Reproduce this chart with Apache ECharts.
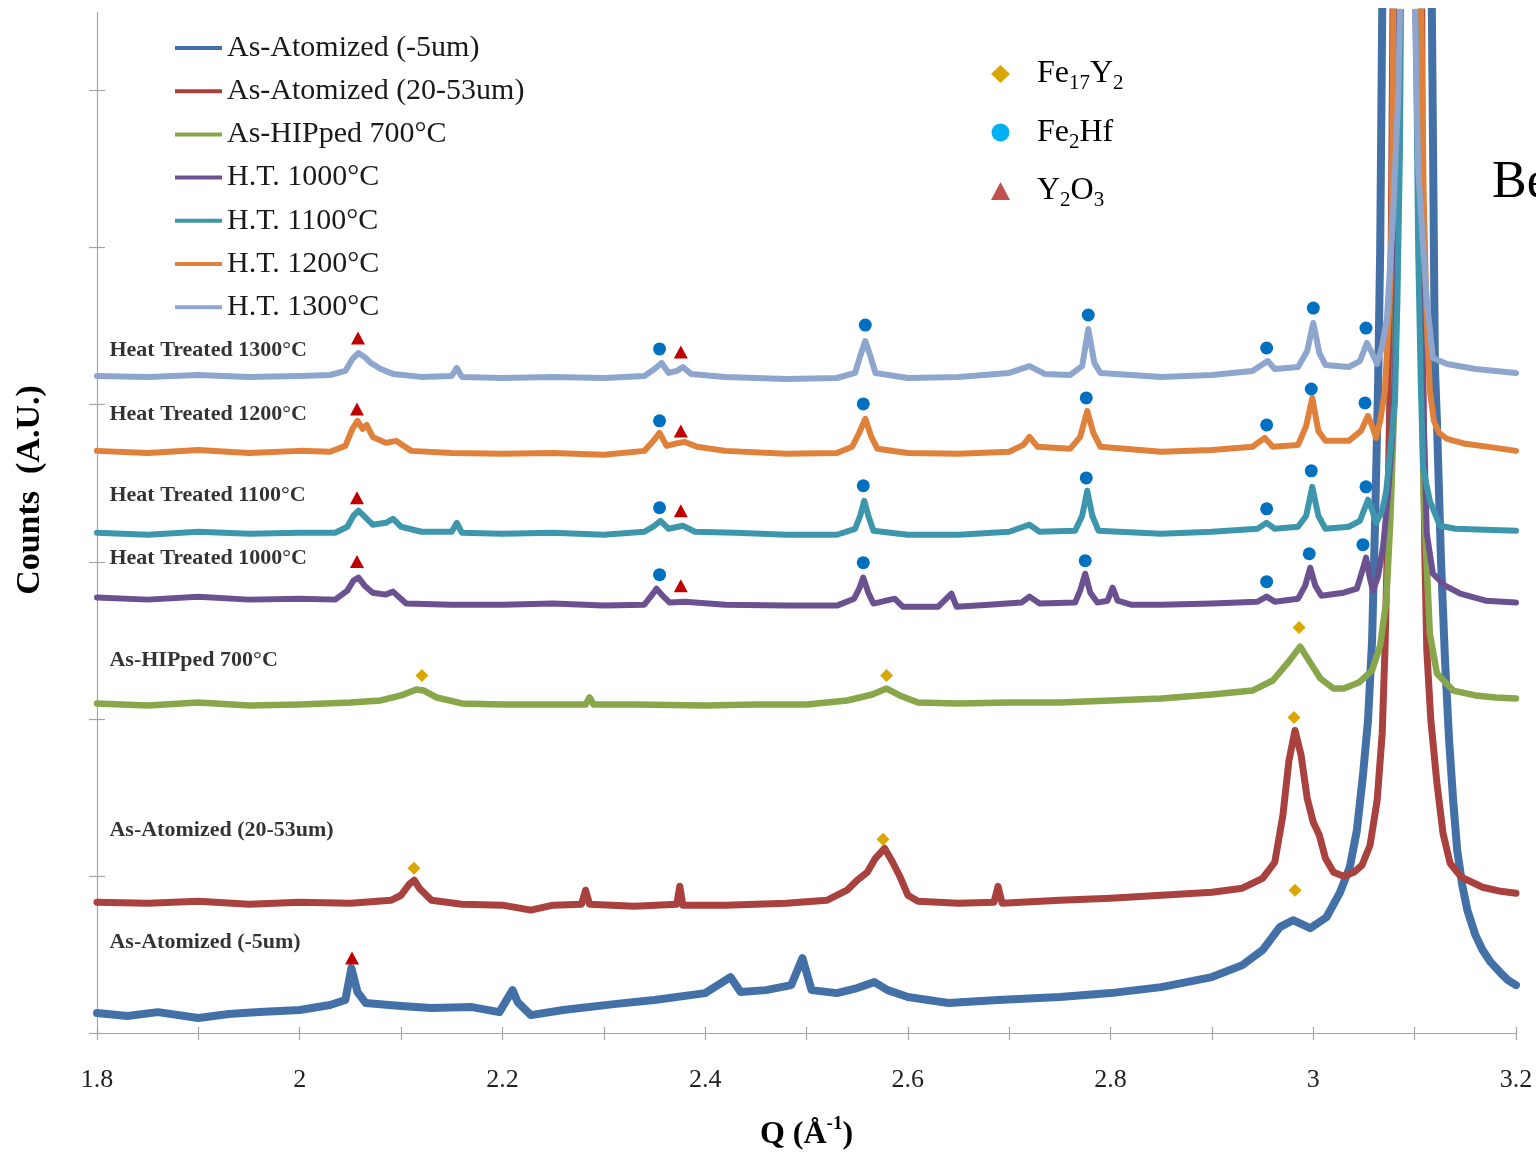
<!DOCTYPE html>
<html>
<head>
<meta charset="utf-8">
<script src="https://cdn.jsdelivr.net/npm/echarts@6/dist/echarts.min.js"></script>
<style>
  html, body { margin: 0; padding: 0; background: #ffffff; }
  #chart { width: 1536px; height: 1153px; }
</style>
</head>
<body>
<div id="chart"></div>
<script>
// X-ray diffraction patterns: intensity (arbitrary units, curves stacked) versus Q (1/Angstrom)
const qTicks = [1.8, 1.9, 2.0, 2.1, 2.2, 2.3, 2.4, 2.5, 2.6, 2.7, 2.8, 2.9, 3.0, 3.1, 3.2];
const qLabels = [1.8, 2, 2.2, 2.4, 2.6, 2.8, 3, 3.2];
const countTicks = [0, 1000, 2000, 3000, 4000, 5000, 6000];

const seriesNames = [
  'As-Atomized (-5um)', 'As-Atomized (20-53um)', 'As-HIPped 700°C',
  'H.T. 1000°C', 'H.T. 1100°C', 'H.T. 1200°C', 'H.T. 1300°C'
];

// [Q, counts] for each sample
const asAtomized5um = [[1.80,127],[1.83,108],[1.86,133],[1.90,95],[1.93,121],[1.96,133],[2.00,146],[2.03,178],[2.045,210],[2.051,413],[2.057,261],[2.065,191],[2.10,172],[2.13,159],[2.17,165],[2.197,133],[2.210,273],[2.215,197],[2.228,114],[2.26,146],[2.31,184],[2.35,210],[2.40,254],[2.425,356],[2.435,261],[2.46,273],[2.485,305],[2.496,477],[2.505,273],[2.53,254],[2.55,286],[2.567,324],[2.58,273],[2.60,229],[2.64,191],[2.689,210],[2.75,229],[2.80,254],[2.85,292],[2.90,356],[2.93,432],[2.95,528],[2.967,674],[2.98,718],[2.997,667],[3.013,737],[3.026,890],[3.036,1055],[3.043,1290],[3.049,1640],[3.054,1990],[3.058,2498],[3.061,3261],[3.064,4151],[3.066,4978],[3.068,6503],[3.075,9000],[3.092,15000],[3.110,9000],[3.117,6503],[3.120,4234],[3.122,3897],[3.126,3007],[3.130,2371],[3.134,1863],[3.138,1481],[3.142,1163],[3.147,941],[3.152,782],[3.160,623],[3.167,528],[3.175,451],[3.184,388],[3.192,337],[3.20,305]];

const asAtomized2053 = [[1.80,833],[1.85,826],[1.90,839],[1.95,820],[2.00,833],[2.05,826],[2.09,845],[2.10,877],[2.108,947],[2.113,973],[2.118,922],[2.13,845],[2.16,820],[2.20,814],[2.228,782],[2.25,814],[2.278,820],[2.282,909],[2.286,820],[2.33,807],[2.372,820],[2.375,934],[2.378,814],[2.42,814],[2.48,826],[2.52,845],[2.54,909],[2.55,973],[2.56,1023],[2.568,1112],[2.577,1176],[2.585,1087],[2.592,998],[2.60,877],[2.61,839],[2.65,826],[2.685,833],[2.689,934],[2.693,826],[2.75,845],[2.80,858],[2.85,877],[2.90,896],[2.93,922],[2.95,985],[2.962,1087],[2.97,1386],[2.976,1735],[2.982,1926],[2.988,1767],[2.994,1494],[3.000,1341],[3.006,1259],[3.012,1112],[3.020,1023],[3.030,998],[3.040,1023],[3.048,1068],[3.056,1195],[3.063,1481],[3.068,1907],[3.0707,2435],[3.073,3070],[3.076,4234],[3.0786,6503],[3.083,9000],[3.093,15000],[3.103,9000],[3.107,6503],[3.108,4234],[3.110,3070],[3.112,2435],[3.116,1990],[3.122,1589],[3.128,1271],[3.135,1081],[3.146,992],[3.167,928],[3.185,902],[3.20,890]];

const asHipped700 = [[1.80,2098],[1.85,2085],[1.90,2104],[1.95,2085],[2.00,2091],[2.05,2104],[2.08,2117],[2.10,2149],[2.115,2187],[2.122,2181],[2.135,2136],[2.16,2098],[2.20,2091],[2.25,2091],[2.282,2091],[2.286,2136],[2.29,2091],[2.33,2091],[2.40,2085],[2.45,2091],[2.50,2091],[2.54,2117],[2.565,2155],[2.579,2193],[2.592,2149],[2.61,2104],[2.65,2098],[2.70,2104],[2.75,2104],[2.80,2117],[2.85,2130],[2.90,2155],[2.94,2180],[2.96,2244],[2.975,2358],[2.987,2460],[2.997,2358],[3.007,2257],[3.02,2193],[3.03,2193],[3.045,2231],[3.058,2308],[3.066,2467],[3.072,2753],[3.076,3261],[3.08,4024],[3.083,5295],[3.0845,6503],[3.088,9000],[3.093,15000],[3.099,9000],[3.103,6503],[3.106,4660],[3.109,3388],[3.115,2543],[3.122,2289],[3.138,2180],[3.16,2149],[3.18,2136],[3.20,2130]];

const ht1000 = [[1.80,2772],[1.85,2759],[1.90,2778],[1.95,2759],[2.00,2765],[2.035,2759],[2.047,2816],[2.053,2880],[2.058,2899],[2.064,2848],[2.072,2803],[2.085,2791],[2.092,2810],[2.105,2734],[2.15,2727],[2.20,2727],[2.25,2734],[2.30,2721],[2.34,2727],[2.347,2784],[2.352,2829],[2.358,2784],[2.365,2740],[2.38,2746],[2.42,2727],[2.48,2721],[2.53,2721],[2.547,2765],[2.552,2829],[2.556,2899],[2.561,2803],[2.566,2734],[2.587,2765],[2.595,2714],[2.63,2714],[2.643,2797],[2.648,2714],[2.68,2727],[2.712,2740],[2.72,2778],[2.73,2734],[2.765,2740],[2.77,2816],[2.775,2924],[2.78,2803],[2.787,2740],[2.797,2752],[2.802,2835],[2.807,2752],[2.82,2727],[2.85,2727],[2.90,2734],[2.945,2746],[2.954,2778],[2.962,2746],[2.985,2765],[2.992,2848],[2.997,2962],[3.002,2848],[3.008,2784],[3.03,2803],[3.043,2829],[3.049,2956],[3.052,3026],[3.056,2892],[3.059,2816],[3.064,2911],[3.069,3102],[3.074,3452],[3.0776,3770],[3.0806,4215],[3.083,5295],[3.084,6503],[3.088,9000],[3.093,15000],[3.099,9000],[3.1035,6503],[3.106,4660],[3.109,3897],[3.112,3179],[3.118,2924],[3.13,2848],[3.145,2797],[3.17,2752],[3.20,2740]];

const ht1100 = [[1.80,3185],[1.85,3172],[1.90,3191],[1.95,3179],[2.00,3185],[2.035,3185],[2.047,3223],[2.053,3293],[2.058,3325],[2.064,3287],[2.072,3236],[2.085,3248],[2.092,3274],[2.10,3223],[2.12,3191],[2.15,3191],[2.155,3248],[2.16,3185],[2.20,3179],[2.25,3185],[2.30,3172],[2.34,3191],[2.35,3229],[2.356,3261],[2.364,3210],[2.378,3229],[2.39,3191],[2.43,3185],[2.48,3172],[2.53,3172],[2.548,3210],[2.553,3293],[2.557,3388],[2.561,3293],[2.566,3198],[2.60,3172],[2.65,3172],[2.70,3191],[2.72,3236],[2.73,3191],[2.765,3198],[2.772,3293],[2.777,3452],[2.782,3293],[2.788,3198],[2.85,3179],[2.90,3191],[2.945,3210],[2.954,3248],[2.962,3210],[2.985,3223],[2.993,3293],[2.999,3477],[3.005,3293],[3.012,3210],[3.035,3223],[3.046,3261],[3.054,3395],[3.058,3331],[3.062,3248],[3.068,3325],[3.072,3452],[3.0776,3814],[3.0806,4024],[3.083,4660],[3.0855,5613],[3.0865,6503],[3.09,9000],[3.094,15000],[3.098,9000],[3.101,6503],[3.1035,4978],[3.106,4151],[3.1083,3598],[3.115,3388],[3.125,3229],[3.14,3210],[3.17,3204],[3.20,3198]];

const ht1200 = [[1.80,3706],[1.85,3693],[1.90,3712],[1.95,3693],[2.00,3706],[2.03,3700],[2.045,3738],[2.052,3846],[2.057,3897],[2.062,3846],[2.066,3871],[2.072,3795],[2.085,3757],[2.095,3770],[2.11,3706],[2.15,3693],[2.20,3687],[2.25,3693],[2.30,3681],[2.34,3706],[2.349,3770],[2.355,3821],[2.362,3738],[2.37,3751],[2.38,3763],[2.392,3732],[2.42,3706],[2.48,3687],[2.53,3693],[2.545,3732],[2.552,3821],[2.558,3910],[2.564,3795],[2.57,3719],[2.60,3693],[2.65,3687],[2.70,3700],[2.714,3744],[2.72,3795],[2.728,3732],[2.76,3719],[2.77,3795],[2.777,3960],[2.783,3821],[2.79,3732],[2.85,3700],[2.90,3712],[2.94,3732],[2.952,3789],[2.96,3732],[2.985,3744],[2.993,3865],[2.999,4043],[3.005,3833],[3.012,3770],[3.035,3770],[3.047,3833],[3.054,3929],[3.058,3865],[3.062,3789],[3.066,3897],[3.0707,4088],[3.0757,4723],[3.0775,5295],[3.079,6503],[3.083,9000],[3.093,15000],[3.103,9000],[3.1065,6503],[3.109,5295],[3.112,4533],[3.115,4088],[3.119,3897],[3.124,3821],[3.132,3782],[3.15,3751],[3.18,3725],[3.20,3706]];

const ht1300 = [[1.80,4183],[1.85,4177],[1.90,4189],[1.95,4177],[2.00,4183],[2.03,4189],[2.045,4215],[2.052,4291],[2.058,4329],[2.064,4304],[2.07,4266],[2.08,4227],[2.092,4196],[2.12,4177],[2.15,4183],[2.155,4234],[2.16,4177],[2.20,4170],[2.25,4177],[2.30,4170],[2.34,4183],[2.35,4227],[2.357,4266],[2.364,4202],[2.372,4215],[2.378,4240],[2.386,4196],[2.42,4177],[2.48,4164],[2.53,4170],[2.548,4202],[2.553,4310],[2.558,4405],[2.563,4310],[2.568,4202],[2.60,4170],[2.65,4177],[2.70,4202],[2.72,4246],[2.735,4196],[2.76,4189],[2.772,4246],[2.778,4482],[2.784,4266],[2.79,4202],[2.85,4177],[2.90,4189],[2.94,4215],[2.955,4278],[2.962,4227],[2.985,4240],[2.994,4342],[3.000,4520],[3.006,4329],[3.012,4253],[3.035,4240],[3.046,4278],[3.053,4393],[3.058,4329],[3.063,4259],[3.068,4374],[3.0727,4552],[3.0786,5187],[3.0836,5931],[3.0855,6503],[3.089,9000],[3.093,15000],[3.097,9000],[3.1003,6503],[3.1035,5505],[3.108,5041],[3.112,4660],[3.118,4297],[3.132,4259],[3.16,4227],[3.18,4215],[3.20,4202]];

// Phase identification markers, [Q, counts]
const fe17y2Peaks = [[2.1206,2276],[2.579,2276],[2.986,2581],[2.1127,1049],[2.5755,1233],[2.981,2009],[2.982,909]];
const fe2hfPeaks = [
  [2.355,4355],[2.558,4507],[2.778,4571],[2.954,4361],[3.000,4615],[3.052,4488],
  [2.355,3897],[2.556,4005],[2.776,4043],[2.954,3871],[2.998,4100],[3.051,4011],
  [2.355,3344],[2.556,3484],[2.776,3534],[2.954,3337],[2.998,3579],[3.052,3477],
  [2.355,2918],[2.556,2994],[2.775,3007],[2.954,2873],[2.996,3051],[3.049,3109]
];
const y2o3Peaks = [[2.0575,4424],[2.376,4335],[2.0565,3973],[2.376,3833],[2.0565,3407],[2.376,3325],[2.0565,3001],[2.376,2848],[2.0516,477]];

// Curve captions, anchored at [Q, counts]
const captionNames = ['Heat Treated 1300°C', 'Heat Treated 1200°C', 'Heat Treated 1100°C', 'Heat Treated 1000°C', 'As-HIPped 700°C', 'As-Atomized (20-53um)', 'As-Atomized (-5um)'];
const captionAnchors = [[1.8118,4348],[1.8118,3941],[1.8118,3426],[1.8118,3020],[1.8118,2371],[1.8118,1290],[1.8118,578]];

const seriesColors = ['#4470A8', '#A9423F', '#88A74B', '#6B5190', '#3E96AC', '#E0813B', '#8EA6CD'];
const seriesWidths = [8, 7, 6.5, 6, 6, 6, 6];
const seriesData = [asAtomized5um, asAtomized2053, asHipped700, ht1000, ht1100, ht1200, ht1300];

const serif = '"Liberation Serif", "Times New Roman", serif';
const axisGrey = '#A6A6A6';

const lineSeries = seriesNames.map((name, i) => ({
  type: 'line',
  name: name,
  data: seriesData[i],
  symbol: 'none',
  showSymbol: false,
  clip: true,
  silent: true,
  z: 2,
  itemStyle: { color: seriesColors[i] },
  lineStyle: { color: seriesColors[i], width: seriesWidths[i], join: 'round', cap: 'round' }
}));

const phaseLabel = {
  'Fe17Y2': '{n|Fe}{s|17}{n|Y}{s|2}',
  'Fe2Hf': '{n|Fe}{s|2}{n|Hf}',
  'Y2O3': '{n|Y}{s|2}{n|O}{s|3}'
};

const chart = echarts.init(document.getElementById('chart'), null, { renderer: 'canvas' });

chart.setOption({
  animation: false,
  backgroundColor: '#ffffff',
  grid: { left: 97, right: 20, top: 12, bottom: 120, containLabel: false, outerBoundsMode: 'none' },
  xAxis: [
    {
      type: 'value', min: 1.8, max: 3.2, interval: 0.1,
      axisLine: { show: true, onZero: false, lineStyle: { color: axisGrey, width: 1.2 } },
      axisTick: { show: true, length: 7, customValues: qTicks, lineStyle: { color: axisGrey, width: 1.2 } },
      axisLabel: {
        show: true, customValues: qLabels, margin: 34,
        fontFamily: serif, fontSize: 26, color: '#222222',
        formatter: v => { const k = Math.round(v * 10); return k % 2 === 0 ? String(k / 10) : ''; }
      },
      splitLine: { show: false },
      name: 'Q (Å{sup|-1})', nameLocation: 'middle', nameGap: 82,
      nameTextStyle: {
        fontFamily: serif, fontSize: 32, fontWeight: 'bold', color: '#000000', lineHeight: 40,
        rich: { sup: { fontFamily: serif, fontSize: 19, fontWeight: 'bold', color: '#000000', verticalAlign: 'top', lineHeight: 40 } }
      }
    },
    {
      type: 'value', min: 1.8, max: 3.2, interval: 0.1, position: 'bottom',
      axisLine: { show: false },
      axisTick: { show: true, inside: true, length: 6, customValues: qTicks, lineStyle: { color: axisGrey, width: 1.2 } },
      axisLabel: { show: false },
      splitLine: { show: false }
    }
  ],
  yAxis: [
    {
      type: 'value', min: 0, max: 6500, interval: 1000,
      axisLine: { show: true, onZero: false, lineStyle: { color: axisGrey, width: 1.2 } },
      axisTick: { show: true, length: 8, customValues: countTicks, lineStyle: { color: axisGrey, width: 1.2 } },
      axisLabel: { show: false },
      splitLine: { show: false }
    },
    {
      type: 'value', min: 0, max: 6500, interval: 1000, position: 'left',
      axisLine: { show: false },
      axisTick: { show: true, inside: true, length: 8, customValues: countTicks, lineStyle: { color: axisGrey, width: 1.2 } },
      axisLabel: { show: false },
      splitLine: { show: false }
    }
  ],
  legend: [
    {
      data: seriesNames,
      orient: 'vertical', left: 170, top: 28,
      icon: 'rect', itemWidth: 47, itemHeight: 4, itemGap: 13.2,
      selectedMode: false,
      textStyle: { fontFamily: serif, fontSize: 30, color: '#1a1a1a', lineHeight: 30 }
    },
    {
      data: [
        { name: 'Fe17Y2', icon: 'diamond', itemStyle: { color: '#DAA600', opacity: 1 } },
        { name: 'Fe2Hf', icon: 'circle', itemStyle: { color: '#00B0F0', opacity: 1 } },
        { name: 'Y2O3', icon: 'triangle', itemStyle: { color: '#C0504D', opacity: 1 } }
      ],
      orient: 'vertical', left: 986, top: 53,
      itemWidth: 19, itemHeight: 18, itemGap: 22.5,
      selectedMode: false,
      formatter: name => phaseLabel[name],
      textStyle: {
        padding: [0, 0, 0, 22],
        rich: {
          n: { fontFamily: serif, fontSize: 32, color: '#000000', lineHeight: 40 },
          s: { fontFamily: serif, fontSize: 21, color: '#000000', lineHeight: 40, verticalAlign: 'bottom' }
        }
      }
    }
  ],
  graphic: [
    {
      type: 'text', x: 30, y: 490, rotation: Math.PI / 2, silent: true,
      style: { text: 'Counts  (A.U.)', fontFamily: serif, fontSize: 34, fontWeight: 'bold', fill: '#000000', align: 'center', verticalAlign: 'middle' }
    },
    {
      type: 'text', x: 1492, y: 183, silent: true,
      style: { text: 'Be', fontFamily: serif, fontSize: 52, fill: '#000000', align: 'left', verticalAlign: 'middle' }
    }
  ],
  series: lineSeries.concat([
    {
      type: 'scatter', name: 'Fe17Y2', data: fe17y2Peaks, z: 5, silent: true,
      symbol: 'diamond', symbolSize: [13, 13], itemStyle: { color: '#DAA600', opacity: 1 }
    },
    {
      type: 'scatter', name: 'Fe2Hf', data: fe2hfPeaks, z: 5, silent: true,
      symbol: 'circle', symbolSize: 13, itemStyle: { color: '#0070C0', opacity: 1 }
    },
    {
      type: 'scatter', name: 'Y2O3', data: y2o3Peaks, z: 5, silent: true,
      symbol: 'triangle', symbolSize: [14, 13], itemStyle: { color: '#C00000', opacity: 1 }
    },
    {
      type: 'scatter', name: 'captions', z: 6, silent: true,
      data: captionNames.map((n, i) => ({ name: n, value: captionAnchors[i] })),
      symbolSize: 1, itemStyle: { color: 'rgba(0,0,0,0)' },
      label: {
        show: true, position: 'right', distance: 0, formatter: '{b}',
        fontFamily: serif, fontSize: 22, fontWeight: 'bold', color: '#000000'
      }
    }
  ])
});
</script>
</body>
</html>
